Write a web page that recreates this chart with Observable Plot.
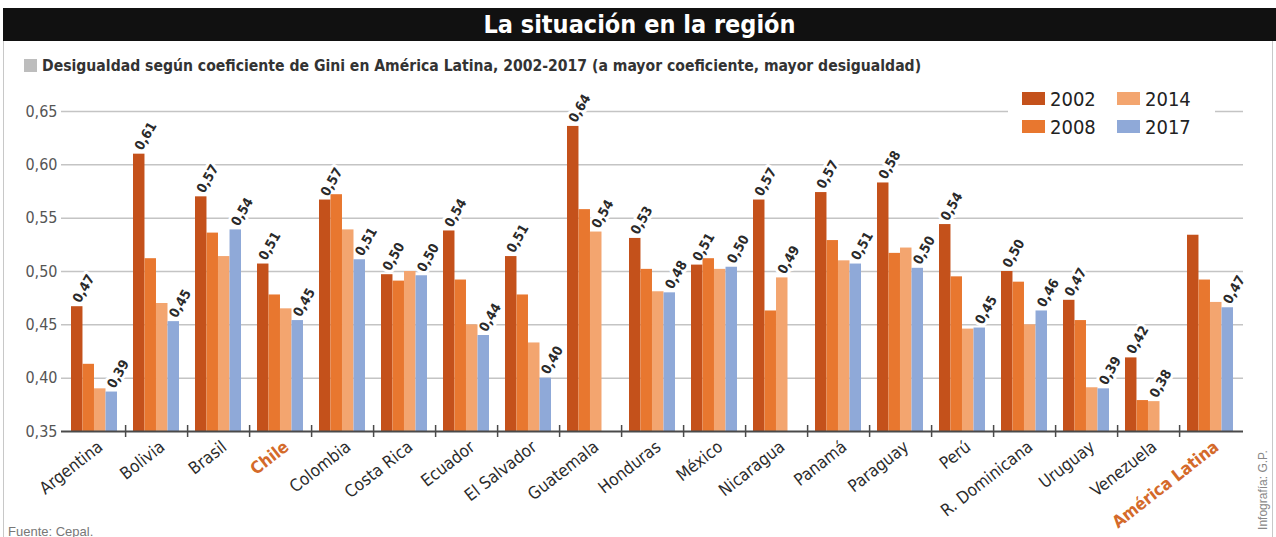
<!DOCTYPE html>
<html><head><meta charset="utf-8">
<script src="https://cdn.jsdelivr.net/npm/d3@7"></script>
<script src="https://cdn.jsdelivr.net/npm/@observablehq/plot@0.6"></script>
<style>
body{margin:0;background:#fff;width:1276px;height:537px;overflow:hidden;position:relative;font-family:"Liberation Sans Narrow","DejaVu Sans Condensed","Roboto Condensed",sans-serif;}
#frame{position:absolute;left:3px;top:40px;width:1268px;height:520px;border-left:1.5px solid #c8c8c8;border-right:1.5px solid #c8c8c8;}
#title{position:absolute;left:3px;top:8px;width:1273px;height:33px;background:#111;color:#fff;font-weight:bold;font-size:25px;line-height:33px;text-align:center;}
#subtitle{position:absolute;left:24px;top:57px;font-size:15.6px;font-weight:bold;color:#333;white-space:nowrap;}
#subtitle .sq{display:inline-block;width:13px;height:13px;background:#bdbdbd;margin-right:5px;vertical-align:-1px;}
#chart{position:absolute;left:0;top:80px;}
#legend{position:absolute;left:1008px;top:84px;width:207px;height:56px;background:#fff;}
.li{position:absolute;font-size:20px;color:#222;line-height:22px;white-space:nowrap;}
.li span{display:inline-block;width:23px;height:13px;margin-right:5px;vertical-align:1px;}
#source{position:absolute;left:8px;top:524px;font-size:13px;color:#777;font-family:"Liberation Sans","DejaVu Sans",sans-serif;}
#credit{position:absolute;left:1263px;top:490px;font-size:12px;color:#888;font-family:"Liberation Sans","DejaVu Sans",sans-serif;transform:translate(-50%,-50%) rotate(-90deg);white-space:nowrap;}
</style></head><body>
<div id="frame"></div>
<div id="title">La situación en la región</div>
<div id="subtitle"><span class="sq"></span>Desigualdad según coeficiente de Gini en América Latina, 2002-2017 (a mayor coeficiente, mayor desigualdad)</div>
<div id="chart"></div>
<div id="legend"></div>
<div id="source">Fuente: Cepal.</div>
<div id="credit">Infografía: G.P.</div>
<script>
const countries = ["Argentina","Bolivia","Brasil","Chile","Colombia","Costa Rica","Ecuador","El Salvador","Guatemala","Honduras","México","Nicaragua","Panamá","Paraguay","Perú","R. Dominicana","Uruguay","Venezuela","América Latina"];
const v2002 = [0.467,0.610,0.570,0.507,0.567,0.497,0.538,0.514,0.636,0.531,0.506,0.567,0.574,0.583,0.544,0.500,0.473,0.419,0.534];
const v2008 = [0.413,0.512,0.536,0.478,0.572,0.491,0.492,0.478,0.558,0.502,0.512,0.463,0.529,0.517,0.495,0.490,0.454,0.379,0.492];
const v2014 = [0.390,0.470,0.514,0.465,0.539,0.500,0.450,0.433,0.537,0.481,0.502,0.494,0.510,0.522,0.446,0.450,0.391,0.378,0.471];
const v2017 = [0.387,0.453,0.539,0.454,0.511,0.496,0.440,0.400,null,0.480,0.504,null,0.507,0.503,0.447,0.463,0.390,null,0.466];
const years = ["2002","2008","2014","2017"];
const yearColors = ["#c4511b","#e8772f","#f3a56f","#8fa9d8"];
const yTicks = [0.35,0.40,0.45,0.50,0.55,0.60,0.65];
const highlighted = ["Chile","América Latina"];
const noFirstLabel = ["América Latina"];

const series = [v2002, v2008, v2014, v2017];
const fmt = v => v.toFixed(2).replace(".", ",");
const FONT = "Liberation Sans Narrow, DejaVu Sans Condensed, sans-serif";

// legend
const legendEl = document.getElementById("legend");
const legendPos = [[14,4],[14,32],[109,4],[109,32]];
years.forEach((yr,i) => {
  const d = document.createElement("div");
  d.className = "li";
  d.style.left = legendPos[i][0] + "px";
  d.style.top = legendPos[i][1] + "px";
  d.innerHTML = `<span style="background:${yearColors[i]}"></span>${yr}`;
  legendEl.appendChild(d);
});

const W = 1276, H = 457, mL = 61, mR = 33, mT = 31, mB = 106;
const pInner = 0.26, pOuter = 0.13;
const step = (W - mL - mR) / (countries.length - pInner + 2 * pOuter);
const band = step * (1 - pInner);
const bw = band / years.length;

const marks = [];
marks.push(Plot.ruleY(yTicks.slice(1), {stroke: "#c4c4c4", strokeWidth: 1.5}));

const labelRows = series.map(() => []);
series.forEach((vals, i) => {
  countries.forEach((c, k) => {
    const v = vals[k];
    if (v == null) return;
    const last = series.slice(i + 1).every(s => s[k] == null);
    const first = i === 0 && !noFirstLabel.includes(c);
    if (first || last) labelRows[i].push({country: c, value: v, label: fmt(v)});
  });
});
const labelOpts = i => ({x: "country", y: "value", text: "label", rotate: -60, textAnchor: "start",
  dx: (i - 1.5) * bw - 1, dy: -5, fontSize: 13.5, fontWeight: "bold", fontFamily: FONT});
labelRows.forEach((rows, i) => {
  marks.push(Plot.text(rows, {...labelOpts(i), fill: "none", stroke: "white", strokeWidth: 6}));
});
series.forEach((vals, i) => {
  const data = countries.map((c, k) => ({country: c, value: vals[k]})).filter(d => d.value != null);
  marks.push(Plot.barY(data, {x: "country", y1: 0.35, y2: "value", fill: yearColors[i],
    insetLeft: i * bw, insetRight: (years.length - 1 - i) * bw}));
});
labelRows.forEach((rows, i) => {
  marks.push(Plot.text(rows, {...labelOpts(i), fill: "#2a2a2a"}));
});
marks.push(Plot.ruleY([0.35], {stroke: "#4a4a4a", strokeWidth: 2}));
marks.push(Plot.ruleX(countries.slice(0, -1), {x: d => d, dx: step / 2, y1: 0.35, y2: 0.35, insetTop: -6, insetBottom: -6, stroke: "#4a4a4a", strokeWidth: 1.5}));
marks.push(Plot.axisY(yTicks, {label: null, tickSize: 0, tickPadding: 4, tickFormat: fmt, fontSize: 16, fill: "#555", fontFamily: FONT}));
const normal = countries.filter(c => !highlighted.includes(c));
const xl = {x: d => d, y: 0.35, text: d => d, rotate: -38, textAnchor: "end", lineAnchor: "top", dx: 2, dy: 8, fontSize: 17, fontFamily: FONT};
marks.push(Plot.text(normal, {...xl, fill: "#2b2b2b"}));
marks.push(Plot.text(highlighted, {...xl, fontWeight: "bold", fill: "#d46a2a"}));

const chart = Plot.plot({
  width: W, height: H, marginLeft: mL, marginRight: mR, marginTop: mT, marginBottom: mB,
  style: {background: "transparent", overflow: "visible"},
  x: {domain: countries, paddingInner: pInner, paddingOuter: pOuter, axis: null},
  y: {domain: [0.35, 0.65], axis: null},
  marks
});
document.getElementById("chart").appendChild(chart);
</script>
</body></html>
